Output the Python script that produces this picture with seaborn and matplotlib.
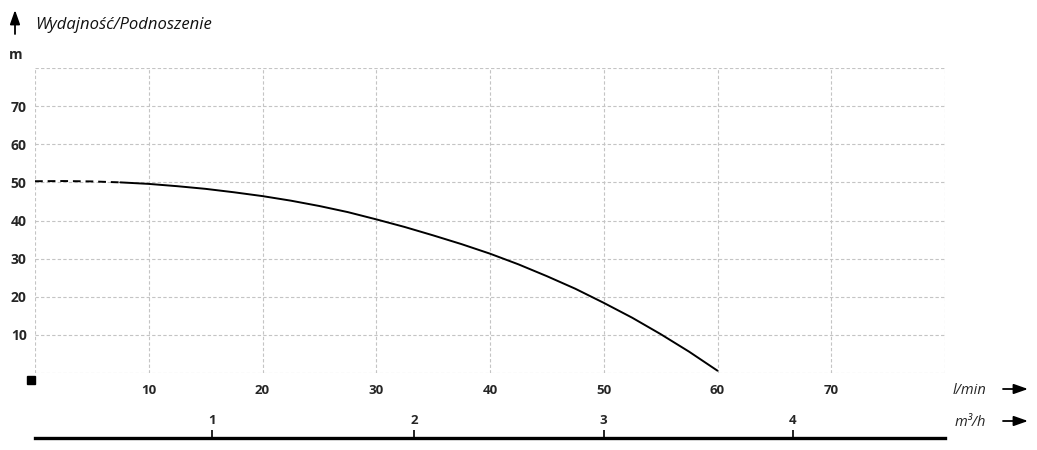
import matplotlib
import matplotlib.pyplot as plt
import numpy as np
import pandas as pd
import seaborn as sns
from matplotlib.patches import Rectangle, FancyArrowPatch

matplotlib.use("Agg")

# Krzywa pompy: wydajność [l/min] -> podnoszenie [m]
flow_dashed = [0, 2.5, 5, 7.5]
head_dashed = [50.3, 50.35, 50.25, 50.0]
flow_solid = [7.5, 10, 12.5, 15, 17.5, 20, 22.5, 25, 27.5, 30, 32.5, 35, 37.5,
              40, 42.5, 45, 47.5, 50, 52.5, 55, 57.5, 60]
head_solid = [50.0, 49.6, 49.0, 48.3, 47.4, 46.4, 45.2, 43.8, 42.2, 40.3, 38.3,
              36.1, 33.8, 31.3, 28.5, 25.4, 22.1, 18.4, 14.5, 10.2, 5.6, 0.6]

x_ticks = [0, 10, 20, 30, 40, 50, 60, 70, 80]
x_labels = ["", "10", "20", "30", "40", "50", "60", "70", ""]
y_ticks = [0, 10, 20, 30, 40, 50, 60, 70, 80]
y_labels = ["", "10", "20", "30", "40", "50", "60", "70", ""]
# pozycje m3/h na skali l/min
m3h_pos = [15.6, 33.3, 50.0, 66.6]
m3h_labels = ["1", "2", "3", "4"]

sns.set_style("white")
plt.rcParams["font.family"] = ["Open Sans", "DejaVu Sans"]

W, H = 1037, 450
fig = plt.figure(figsize=(W / 100, H / 100), dpi=100)
L, R, T, B = 35 / W, 945 / W, 1 - 68 / H, 1 - 373 / H
ax = fig.add_axes([L, B, R - L, T - B])

df_d = pd.DataFrame({"q": flow_dashed, "h": head_dashed})
df_s = pd.DataFrame({"q": flow_solid, "h": head_solid})
sns.lineplot(data=df_d, x="q", y="h", ax=ax, color="black", linewidth=1.4,
             linestyle=(0, (4, 2.5)))
sns.lineplot(data=df_s, x="q", y="h", ax=ax, color="black", linewidth=1.4)

ax.set_xlim(0, 80)
ax.set_ylim(0, 80)
ax.set_xticks(x_ticks)
ax.set_xticklabels(x_labels, fontweight="bold", fontsize=9.5)
ax.set_yticks(y_ticks)
ax.set_yticklabels(y_labels, fontweight="bold", fontsize=10)
ax.tick_params(axis="both", length=0)
ax.tick_params(axis="x", pad=8)
ax.tick_params(axis="y", pad=6)
ax.set_xlabel("")
ax.set_ylabel("")
ax.grid(True, color="#c4c4c4", linestyle=(0, (3, 2)), linewidth=0.8)
for s in ax.spines.values():
    s.set_visible(False)

# druga skala m3/h
ax2 = fig.add_axes([L, 1 - 438 / H - 0.01, R - L, 0.01])
ax2.set_xlim(0, 80)
ax2.set_yticks([])
for k in ["left", "right", "bottom"]:
    ax2.spines[k].set_visible(False)
ax2.spines["top"].set_linewidth(2.4)
ax2.spines["top"].set_color("black")
ax2.xaxis.tick_top()
ax2.set_xticks(m3h_pos)
ax2.set_xticklabels(m3h_labels, fontweight="bold", fontsize=9.5)
ax2.tick_params(axis="x", direction="out", length=6, width=1.2, pad=2, color="black")
ax2.patch.set_alpha(0)

# opisy i strzałki
fig.text(35 / W, 1 - 25 / H, "Wydajność/Podnoszenie", fontsize=12, style="italic",
         va="center", ha="left", color="#111111")
fig.text(16 / W, 1 - 55 / H, "m", fontsize=10, fontweight="bold", va="center", ha="center")
fig.text(953 / W, 1 - 390 / H, "l/min", fontsize=10.5, style="italic", va="center", ha="left")
fig.text(955 / W, 1 - 422 / H, "m³/h", fontsize=10.5, style="italic", va="center", ha="left")

arrow = dict(arrowstyle="-|>,head_length=0.85,head_width=0.3", color="black", lw=1.3,
             shrinkA=0, shrinkB=0, mutation_scale=10)
fig.add_artist(FancyArrowPatch((15 / W, 1 - 34 / H), (15 / W, 1 - 10 / H),
                               transform=fig.transFigure, **arrow))
for yy in (389, 421):
    fig.add_artist(FancyArrowPatch((1003 / W, 1 - yy / H), (1028 / W, 1 - yy / H),
                                   transform=fig.transFigure, **arrow))

fig.add_artist(Rectangle((27 / W, 1 - 384 / H), 8 / W, 8 / H, transform=fig.transFigure,
                         color="black"))

fig.savefig("out.png", dpi=100)
plt.close(fig)
